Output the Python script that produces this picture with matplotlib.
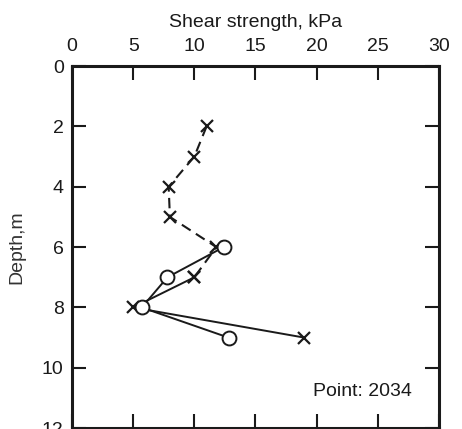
import matplotlib.pyplot as plt

plt.rcParams['font.family'] = ['Liberation Sans', 'DejaVu Sans']

# vane test (crosses) and second test (circles)
cross_depth = [2, 3, 4, 5, 6, 7, 8, 9]
cross_shear = [11.0, 10.0, 7.9, 8.0, 11.8, 10.0, 5.0, 19.0]
circle_depth = [6, 7, 8, 9]
circle_shear = [12.4, 7.8, 5.7, 12.8]

x_ticks = [0, 5, 10, 15, 20, 25, 30]
y_ticks = [0, 2, 4, 6, 8, 10, 12]

fig = plt.figure(figsize=(4.62, 4.29), dpi=100)
ax = fig.add_axes([0.156, 0.002, 0.794, 0.844])

ink = '#1a1a1a'
fs = 14

# crosses: dashed down to 7 m, solid below
ax.plot(cross_shear[:6], cross_depth[:6], color=ink, lw=1.5, ls=(0, (5, 3)),
        marker='x', ms=9, mew=1.6)
ax.plot(cross_shear[5:], cross_depth[5:], color=ink, lw=1.4,
        marker='x', ms=9, mew=1.6)
ax.plot(circle_shear, circle_depth, color=ink, lw=1.4,
        marker='o', ms=10, mew=1.4, mfc='white', mec=ink)

ax.set_xlim(0, 30)
ax.set_ylim(12, 0)
ax.set_xticks(x_ticks)
ax.set_yticks(y_ticks)
ax.xaxis.set_ticks_position('both')
ax.yaxis.set_ticks_position('both')
ax.xaxis.set_label_position('top')
ax.tick_params(axis='x', labeltop=True, labelbottom=False)
ax.tick_params(direction='in', length=10, width=1.5, colors=ink,
               labelsize=fs, pad=6)
ax.tick_params(axis='x', pad=8)

for s in ax.spines.values():
    s.set_linewidth(2.2)
    s.set_color(ink)

ax.set_xlabel('Shear strength, kPa', fontsize=fs, color=ink, labelpad=8)
ax.set_ylabel('Depth,m', fontsize=fs, color='#333333', labelpad=12)

ax.text(27.8, 10.8, 'Point: 2034', fontsize=fs, color=ink,
        ha='right', va='center')

fig.savefig('out.png', dpi=100)
